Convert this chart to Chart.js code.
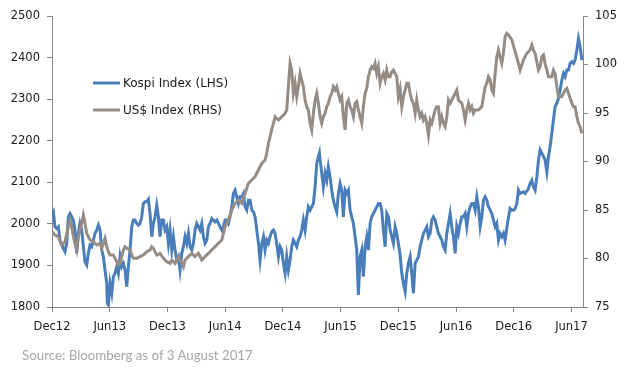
<!DOCTYPE html>
<html><head><meta charset="utf-8">
<script src="https://cdn.jsdelivr.net/npm/chart.js@4"></script>
<style>
html,body{margin:0;padding:0;background:#fff;}
#wrap{position:relative;width:630px;height:378px;}
#source{position:absolute;left:22px;top:347px;font-family:Lato,'Liberation Sans',sans-serif;font-size:13.3px;color:#a6a6a6;white-space:nowrap;}
</style></head><body>
<div id="wrap"><canvas id="c" width="630" height="378"></canvas><div id="source">Source: Bloomberg as of 3 August 2017</div></div>
<script>
// x values: months since Dec 2012
const tickMonths = [0, 6, 12, 18, 24, 30, 36, 42, 48, 54];
const tickLabels = ['Dec12','Jun13','Dec13','Jun14','Dec14','Jun15','Dec15','Jun16','Dec16','Jun17'];
const leftTicks = [1800, 2500, 100];
const rightTicks = [75, 105, 5];

const kospiMonths = [0.00,0.14,0.31,0.49,0.66,0.83,1.18,1.35,1.53,1.70,1.87,2.05,2.22,2.39,2.57,2.74,2.91,3.09,3.26,3.43,3.61,3.78,3.95,4.13,4.30,4.47,4.65,4.82,4.99,5.17,5.34,5.51,5.69,5.75,5.86,6.03,6.21,6.38,6.55,6.73,6.90,7.07,7.25,7.42,7.59,7.77,7.94,8.11,8.29,8.46,8.63,8.81,8.98,9.15,9.33,9.50,9.67,9.85,10.02,10.19,10.37,10.54,10.71,10.89,11.06,11.23,11.41,11.58,11.75,11.93,12.10,12.27,12.45,12.62,12.79,12.97,13.14,13.31,13.49,13.66,13.83,14.01,14.18,14.35,14.53,14.70,14.87,15.05,15.22,15.39,15.57,15.74,15.91,16.09,16.26,16.43,16.61,16.78,16.95,17.13,17.30,17.47,17.65,17.82,17.99,18.17,18.34,18.51,18.69,18.86,19.03,19.21,19.38,19.55,19.73,19.90,20.07,20.25,20.42,20.59,20.77,20.94,21.11,21.29,21.46,21.63,21.81,21.98,22.15,22.32,22.50,22.67,22.84,23.02,23.19,23.36,23.54,23.71,23.88,24.05,24.23,24.40,24.57,24.75,24.92,25.09,25.27,25.44,25.61,25.79,25.96,26.13,26.31,26.48,26.65,26.83,27.00,27.17,27.35,27.52,27.69,27.80,27.87,28.04,28.21,28.39,28.56,28.73,28.91,29.08,29.25,29.43,29.60,29.77,29.95,30.12,30.29,30.47,30.64,30.81,30.99,31.16,31.33,31.51,31.68,31.85,32.03,32.20,32.37,32.55,32.72,32.89,33.07,33.24,33.41,33.59,33.76,33.93,34.11,34.28,34.45,34.63,34.80,34.97,35.15,35.32,35.49,35.67,35.84,36.01,36.19,36.36,36.53,36.71,36.88,37.05,37.23,37.40,37.57,37.75,37.92,38.09,38.27,38.44,38.61,38.79,38.96,39.13,39.31,39.48,39.65,39.83,40.00,40.17,40.35,40.52,40.69,40.87,41.04,41.21,41.39,41.56,41.73,41.91,42.08,42.25,42.43,42.60,42.77,42.95,43.12,43.29,43.47,43.64,43.81,43.99,44.16,44.33,44.51,44.68,44.85,45.03,45.20,45.37,45.55,45.72,45.89,46.07,46.24,46.41,46.58,46.76,46.93,47.10,47.28,47.45,47.62,47.80,47.97,48.15,48.32,48.49,48.66,49.01,49.18,49.53,49.70,49.88,50.05,50.22,50.40,50.57,50.74,50.92,51.09,51.26,51.44,51.61,51.78,51.96,52.13,52.30,52.48,52.65,52.82,53.00,53.17,53.34,53.52,53.69,53.86,54.04,54.21,54.38,54.56,54.73,54.90,55.08];
const kospiValues = [2025,2030,1993,1989,1993,1961,1941,1933,1953,2017,2025,2017,2009,1985,1929,1977,2001,1985,1945,1909,1901,1929,1949,1945,1961,1977,1985,1997,1985,1937,1921,1889,1857,1809,1805,1857,1833,1873,1881,1897,1881,1921,1897,1905,1889,1849,1897,1937,1993,2009,2009,2001,1997,2001,2017,2049,2053,2053,2059,2025,1969,2001,2017,2045,2017,1969,2009,2009,1985,1993,1953,1985,1937,1969,1937,1913,1921,1889,1929,1945,1969,1953,1977,1945,1937,1953,1985,2001,1993,1985,2001,1969,1953,1961,1993,2001,2013,2009,2005,2009,2001,1993,1985,1993,2009,2009,2001,2017,2041,2073,2081,2065,2049,2065,2065,2073,2041,2033,2057,2057,2033,2029,2017,1985,1953,1913,1953,1969,1937,1961,1953,1969,1981,1985,1977,1953,1921,1945,1937,1905,1881,1921,1889,1913,1945,1961,1953,1945,1961,1969,1985,2009,1985,2017,2041,2033,2041,2049,2089,2146,2162,2171,2154,2122,2089,2122,2105,2137,2113,2081,2057,2041,2029,2073,2097,2081,2017,2081,2073,2081,2033,2017,2001,1969,1937,1829,1921,1937,1873,1945,1969,1937,2001,2017,2025,2033,2041,2049,2049,2033,1985,1945,2025,2017,1985,1969,1953,1993,1977,1953,1925,1881,1857,1837,1881,1905,1921,1881,1833,1905,1913,1921,1945,1961,1977,1985,1993,1969,1977,2009,2017,2009,1993,1977,1969,1961,1945,1937,1977,2001,2025,1993,1969,1929,1993,1977,2001,2017,2017,2025,1993,2025,2041,2049,2049,2033,2065,2041,1993,2017,2057,2065,2057,2041,2033,2025,2009,1993,2001,1961,1977,1969,1977,1961,1990,2015,2037,2033,2033,2037,2049,2081,2073,2077,2073,2085,2097,2105,2089,2081,2113,2154,2178,2170,2162,2154,2125,2162,2186,2218,2250,2282,2290,2302,2322,2346,2362,2354,2370,2370,2386,2390,2386,2394,2418,2446,2426,2394];

const usdMonths = [0.00,0.31,0.66,1.01,1.35,1.70,1.87,2.05,2.22,2.39,2.57,2.74,2.91,3.09,3.26,3.43,3.61,3.78,3.95,4.30,4.65,4.99,5.17,5.34,5.51,5.69,5.86,6.03,6.38,6.55,6.73,6.90,7.07,7.25,7.42,7.59,7.77,8.11,8.29,8.46,8.81,9.15,9.50,9.85,10.19,10.37,10.54,10.89,11.23,11.58,11.93,12.27,12.45,12.79,13.14,13.49,13.66,13.83,14.18,14.53,14.87,15.22,15.57,15.91,16.26,16.61,16.95,17.30,17.65,17.82,17.99,18.34,18.69,18.86,19.03,19.38,19.73,20.07,20.42,20.77,21.11,21.46,21.81,22.15,22.32,22.50,22.67,22.84,23.02,23.19,23.54,23.88,24.23,24.40,24.57,24.75,24.92,25.09,25.27,25.44,25.61,25.79,25.96,26.13,26.31,26.48,26.65,26.83,27.00,27.17,27.35,27.52,27.69,27.87,28.04,28.21,28.39,28.56,28.73,28.91,29.08,29.25,29.43,29.60,29.77,29.95,30.12,30.29,30.47,30.64,30.81,30.99,31.16,31.33,31.51,31.68,31.85,32.03,32.20,32.37,32.55,32.72,32.89,33.07,33.24,33.41,33.59,33.76,33.93,34.11,34.28,34.45,34.63,34.80,34.97,35.15,35.32,35.49,35.67,35.84,36.01,36.19,36.36,36.53,36.71,36.88,37.05,37.23,37.40,37.57,37.75,37.92,38.09,38.27,38.44,38.61,38.79,38.96,39.13,39.31,39.48,39.65,39.83,40.00,40.17,40.35,40.52,40.69,40.87,41.04,41.21,41.39,41.56,41.91,42.08,42.25,42.60,42.77,42.95,43.12,43.29,43.47,43.64,43.81,43.99,44.33,44.68,44.85,45.03,45.20,45.37,45.55,45.72,45.89,46.07,46.24,46.41,46.58,46.76,46.93,47.10,47.28,47.45,47.80,48.15,48.49,48.66,49.01,49.36,49.70,49.88,50.05,50.22,50.57,50.74,50.92,51.09,51.26,51.44,51.61,51.96,52.13,52.30,52.48,52.65,53.00,53.34,53.52,53.69,54.04,54.21,54.38,54.56,54.73,54.90,55.08];
const usdValues = [82.76,82.42,82.25,81.39,81.73,83.28,83.97,83.28,82.25,81.57,80.88,82.25,82.94,83.63,84.48,83.63,82.60,82.25,81.91,81.73,81.39,81.57,81.05,81.57,82.08,81.22,80.70,80.36,80.36,80.02,79.67,79.33,79.50,80.19,80.88,81.22,81.05,80.88,80.36,80.02,80.02,80.19,80.36,80.70,80.88,81.22,81.05,80.36,80.53,80.02,79.67,79.50,79.85,79.50,80.19,79.50,79.15,79.85,80.19,80.53,80.19,80.53,79.85,80.19,80.53,80.88,81.22,81.57,81.91,82.60,83.28,83.97,85.00,85.34,85.69,86.03,85.69,86.72,87.75,88.09,88.43,89.12,89.81,90.15,90.85,91.88,92.56,93.25,93.94,94.62,94.28,94.62,94.97,95.31,97.71,100.12,99.43,97.03,98.06,96.68,97.71,99.09,98.40,97.71,96.34,95.65,95.31,93.94,93.25,94.97,96.34,97.03,96.00,94.62,93.94,94.62,94.97,95.65,96.00,96.68,97.03,97.71,97.37,97.71,97.03,96.34,96.68,94.62,93.25,96.00,96.34,95.65,95.31,94.62,96.00,96.17,95.31,94.62,93.94,95.65,97.03,97.54,98.74,99.43,99.77,99.60,100.12,99.09,99.77,98.06,98.74,99.09,98.40,99.43,98.74,98.74,99.26,99.43,99.09,98.74,96.68,97.50,95.65,96.68,97.37,98.06,98.06,97.03,96.34,96.00,94.97,96.34,95.31,94.62,94.97,94.28,94.62,93.94,92.73,94.28,93.94,94.62,95.31,95.65,95.65,93.94,94.62,93.94,93.59,94.62,96.34,96.00,96.34,97.03,97.37,96.34,96.00,95.31,94.28,95.31,96.00,95.31,95.65,94.97,95.31,95.31,95.65,96.68,97.71,98.06,98.74,98.40,97.37,97.03,99.09,100.80,101.49,100.80,100.12,101.15,102.87,103.22,103.05,102.53,101.30,100.12,99.43,100.46,101.15,101.49,102.01,101.49,101.15,99.43,99.77,100.80,100.98,100.12,99.43,98.74,98.74,99.43,99.09,97.71,96.68,96.68,97.37,97.54,97.03,96.00,95.65,95.65,94.62,93.94,93.59,92.91];

const toPoints = (xs, ys) => xs.map((x, i) => ({x: x, y: ys[i]}));

const AXIS = '#868686';
const TXT = '#1a1a1a';
const tickFont = {family: '"DejaVu Sans"', size: 11.5};

const inlineLegend = {
  id: 'inlineLegend',
  afterDraw(chart) {
    const ctx = chart.ctx, a = chart.chartArea;
    chart.data.datasets.forEach((ds, i) => {
      const y = a.top + 67 + i * 27;
      const x0 = a.left + 41;
      ctx.save();
      ctx.strokeStyle = ds.borderColor;
      ctx.lineWidth = 3;
      ctx.beginPath(); ctx.moveTo(x0, y); ctx.lineTo(x0 + 27, y); ctx.stroke();
      ctx.fillStyle = TXT;
      ctx.font = '12px "DejaVu Sans"';
      ctx.textBaseline = 'middle';
      ctx.textAlign = 'left';
      ctx.fillText(ds.label, x0 + 30, y + 1);
      ctx.restore();
    });
  }
};

new Chart(document.getElementById('c'), {
  type: 'line',
  data: {
    datasets: [
      {label: 'Kospi Index (LHS)', data: toPoints(kospiMonths, kospiValues), yAxisID: 'y',
       borderColor: '#4a7ebb', borderWidth: 3, pointRadius: 0, tension: 0, order: 1},
      {label: 'US$ Index (RHS)', data: toPoints(usdMonths, usdValues), yAxisID: 'y1',
       borderColor: '#968c86', borderWidth: 3, pointRadius: 0, tension: 0, order: 0}
    ]
  },
  options: {
    responsive: false,
    devicePixelRatio: 1,
    animation: false,
    layout: {padding: {top: 16, left: 0, right: 0, bottom: 0}},
    plugins: {legend: {display: false}, tooltip: {enabled: false}},
    scales: {
      x: {
        type: 'linear', min: 0, max: 55.2,
        afterBuildTicks: s => { s.ticks = tickMonths.map(v => ({value: v})); },
        ticks: {callback: (v, i) => tickLabels[i], font: tickFont, color: TXT, padding: 8, maxRotation: 0, autoSkip: false},
        grid: {drawOnChartArea: false, drawTicks: true, tickLength: 5, color: AXIS},
        border: {display: true, color: AXIS},
        afterFit: s => { s.height = 71; }
      },
      y: {
        position: 'left', min: leftTicks[0], max: leftTicks[1],
        ticks: {stepSize: leftTicks[2], font: tickFont, color: TXT, padding: 7, callback: v => String(v)},
        grid: {drawOnChartArea: false, drawTicks: true, tickLength: 5, color: AXIS},
        border: {display: true, color: AXIS},
        afterFit: s => { s.width = 52; }
      },
      y1: {
        position: 'right', min: rightTicks[0], max: rightTicks[1],
        ticks: {stepSize: rightTicks[2], font: tickFont, color: TXT, padding: 7, callback: v => String(v)},
        grid: {drawOnChartArea: false, drawTicks: true, tickLength: 5, color: AXIS},
        border: {display: true, color: AXIS},
        afterFit: s => { s.width = 47; }
      }
    }
  },
  plugins: [inlineLegend]
});
</script>
</body></html>
